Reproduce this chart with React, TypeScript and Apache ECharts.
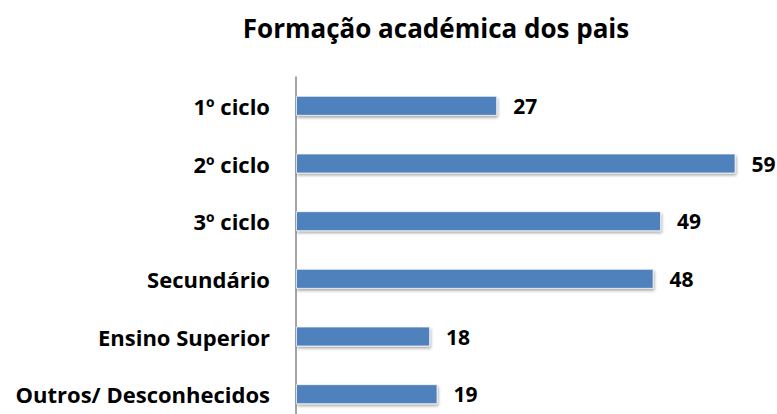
import React, { useEffect, useRef } from "react";
import * as echarts from "echarts";

const categories = ["1º ciclo", "2º ciclo", "3º ciclo", "Secundário", "Ensino Superior", "Outros/ Desconhecidos"];
const values = [27, 59, 49, 48, 18, 19];
const titleText = "Formação académica dos pais";

export default function App() {
  const ref = useRef<HTMLDivElement>(null);
  useEffect(() => {
    if (!ref.current) return;
    const chart = echarts.init(ref.current, null, { renderer: "svg" });
    const font = "'Open Sans', Lato, sans-serif";
    chart.setOption({
      animation: false,
      backgroundColor: "#ffffff",
      title: {
        text: titleText,
        left: 431,
        textAlign: "center",
        top: 10,
        textStyle: { fontFamily: font, fontWeight: "bold", fontSize: 26, color: "#000" },
      },
      grid: {
        left: 296,
        top: 77,
        width: 447,
        height: 346,
        containLabel: false,
        outerBoundsMode: "none",
      },
      xAxis: {
        type: "value",
        min: 0,
        max: 60,
        show: false,
      },
      yAxis: {
        type: "category",
        data: categories,
        inverse: true,
        axisLine: { show: true, lineStyle: { color: "#868686", width: 1.5 } },
        axisTick: { show: false },
        axisLabel: {
          margin: 26,
          fontFamily: font,
          fontWeight: "bold",
          fontSize: 22,
          color: "#000",
        },
      },
      series: [
        {
          type: "bar",
          data: values,
          barWidth: 20,
          itemStyle: {
            color: "#4F81BD",
            borderColor: "rgba(255,255,255,0.7)",
            borderWidth: 1,
            shadowBlur: 3,
            shadowOffsetX: 1,
            shadowOffsetY: 2,
            shadowColor: "rgba(0,0,0,0.35)",
          },
          label: {
            show: true,
            position: "right",
            distance: 16,
            fontFamily: font,
            fontWeight: "bold",
            fontSize: 21,
            color: "#000",
          },
        },
      ],
    });
    return () => chart.dispose();
  }, []);
  return (
    <div
      ref={ref}
      style={{ position: "absolute", left: 0, top: 0, width: 777, height: 414 }}
    />
  );
}
